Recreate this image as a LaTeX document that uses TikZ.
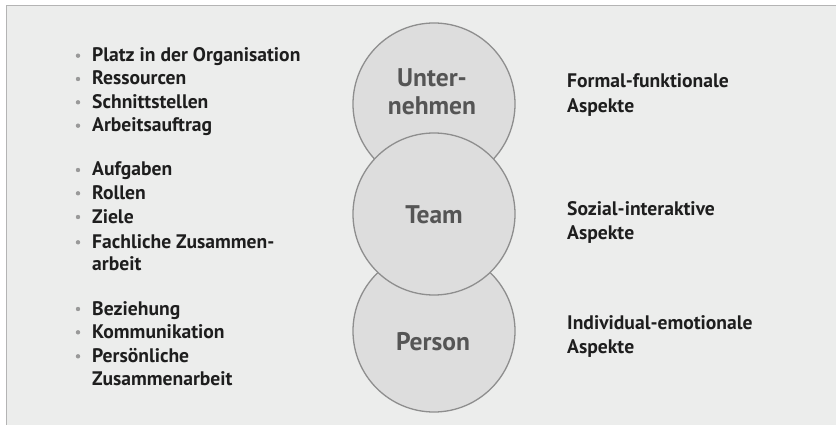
\documentclass[tikz,border=0pt]{standalone}
\usepackage{fontspec}
\setmainfont{PT Sans}
\definecolor{framefill}{HTML}{ECEDEC}
\definecolor{frameline}{HTML}{B4B4B4}
\definecolor{circfill}{HTML}{DDDDDD}
\definecolor{circline}{HTML}{8E8E8E}
\definecolor{circtext}{HTML}{555555}
\definecolor{txt}{HTML}{1E1E1E}
\definecolor{bul}{HTML}{999999}
\begin{document}
\begin{tikzpicture}[x=1pt,y=-1pt,
  ring/.style={circle, draw=circline, fill=circfill, line width=1.3pt, minimum size=162pt, inner sep=0pt},
  ctext/.style={font=\fontsize{25.5}{30}\selectfont\bfseries, text=circtext, anchor=base, inner sep=0pt},
  item/.style={font=\fontsize{19.6}{23}\selectfont\bfseries, text=txt, anchor=base west, inner sep=0pt},
  dot/.style={circle, fill=bul, minimum size=4.4pt, inner sep=0pt}]
\useasboundingbox (0,0) rectangle (836,425);
\fill[framefill] (6,6) rectangle (836,425);
\draw[frameline, line width=1pt] (6,425) -- (6,6) -- (836,6);
% circles
\node[ring] (unt) at (434,104) {};
\node[ring] (per) at (434,331) {};
\node[ring] (team) at (434,214) {};
\node[ctext] (untA) at (432,87) {Unter-};
\node[ctext] (untB) at (432,115) {nehmen};
\node[ctext] (teamT) at (434,224) {Team};
\node[ctext] (perT) at (433,350) {Person};
% bulleted items
\foreach \yy/\tt [count=\i] in {61.7/Platz in der Organisation, 85/Ressourcen, 108.3/Schnittstellen, 131.7/Arbeitsauftrag,
  176/Aufgaben, 199.3/Rollen, 223/Ziele, 248.3/Fachliche Zusammen-,
  315/Beziehung, 338.3/Kommunikation, 362.3/Persönliche}{
  \node[dot] (b\i) at (78,\yy-6) {};
  \node[item] (t\i) at (92,\yy) {\tt};
}
\node[item] (c1) at (92,270.5) {arbeit};
\node[item] (c2) at (92,385.5) {Zusammenarbeit};
% aspects
\node[item] (a1) at (567,87.3) {Formal-funktionale};
\node[item] (a1b) at (567,112.3) {Aspekte};
\node[item] (a2) at (567,215.7) {Sozial-interaktive};
\node[item] (a2b) at (567,240) {Aspekte};
\node[item] (a3) at (567,329.3) {Individual-emotionale};
\node[item] (a3b) at (567,353.3) {Aspekte};
\end{tikzpicture}
\end{document}
